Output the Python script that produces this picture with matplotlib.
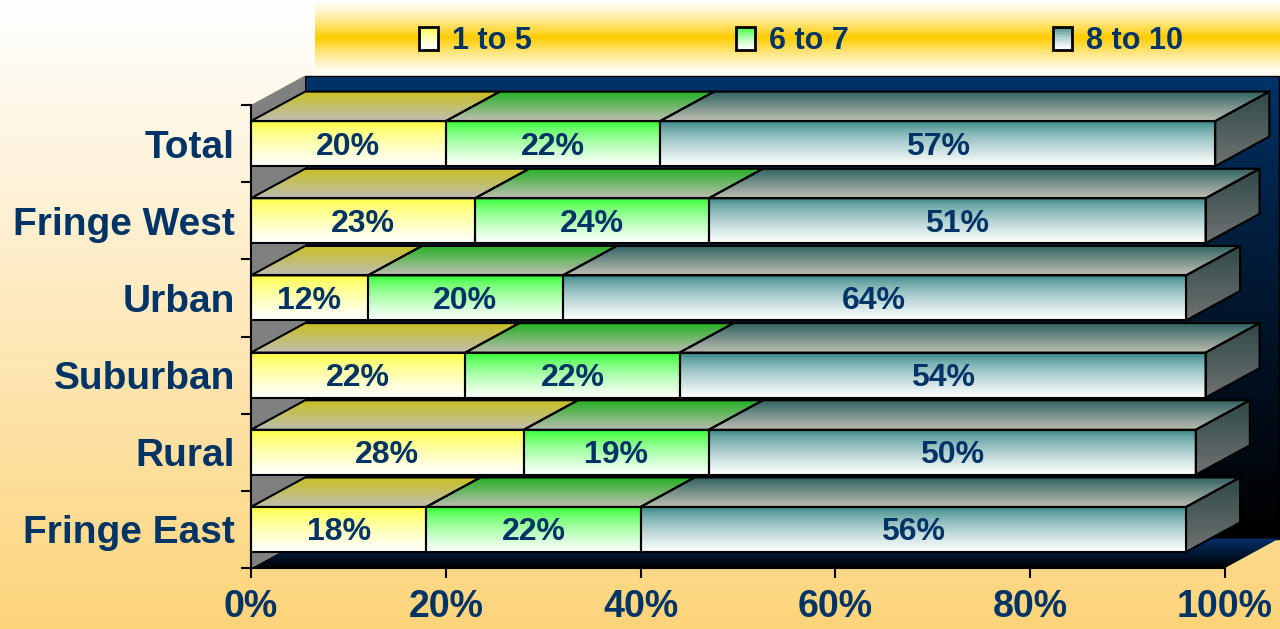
import matplotlib
matplotlib.use("Agg")
import matplotlib.pyplot as plt
import numpy as np
from matplotlib.colors import to_rgb
from matplotlib.patches import Polygon, Rectangle
from matplotlib.legend_handler import HandlerBase
from matplotlib.transforms import offset_copy

plt.rcParams['font.family'] = ['Liberation Sans', 'DejaVu Sans']
plt.rcParams['font.weight'] = 'bold'

# data, top row first
categories = ["Total", "Fringe West", "Urban", "Suburban", "Rural", "Fringe East"]
low = [20, 23, 12, 22, 28, 18]      # 1 to 5
mid = [22, 24, 20, 22, 19, 22]      # 6 to 7
high = [57, 51, 64, 54, 50, 56]     # 8 to 10
series_names = ["1 to 5", "6 to 7", "8 to 10"]
xticks = [0, 20, 40, 60, 80, 100]

navy = "#003366"
front_top = ["#ffff30", "#22ff22", "#2a8080"]
top_back = ["#c8c020", "#22b022", "#2f6262"]
top_front = "#bebeb2"
side_top, side_bot = "#2f4848", "#707272"

DX, DY = 5.55, 0.382   # depth offset (x in %, y in category units)
H = 0.583              # bar face height

fig = plt.figure(figsize=(12.8, 6.29), dpi=100)

# background
bg = fig.add_axes([0, 0, 1, 1], zorder=-5)
t = np.linspace(0, 1, 256)[:, None, None]
c0, c1 = np.array(to_rgb("#ffffff")), np.array(to_rgb("#fdd47a"))
bg.imshow(np.repeat(c0 * (1 - t) + c1 * t, 2, axis=1), extent=(0, 1280, 629, 0),
          aspect='auto', interpolation='bilinear')
yy = np.linspace(-1, 1, 128)
w = np.clip(1 - np.abs(yy), 0, 1) ** 1.3
gold, white = np.array(to_rgb("#ffcc00")), np.array([1, 1, 1.0])
band = white * (1 - w[:, None]) + gold * w[:, None]
bg.imshow(np.repeat(band[:, None, :], 2, axis=1), extent=(315, 1280, 75, 0),
          aspect='auto', interpolation='bilinear')
bg.set_xlim(0, 1280)
bg.set_ylim(629, 0)
bg.axis('off')

ax = fig.add_axes([251 / 1280, 61 / 629, 974 / 1280, 463 / 629])
ax.set_facecolor('none')


def grad(extent, ctop, cbot, z, pts=None, power=1.0):
    s = np.linspace(0, 1, 128)[:, None, None] ** power
    a, b = np.array(to_rgb(ctop)), np.array(to_rgb(cbot))
    img = np.repeat(a * (1 - s) + b * s, 2, axis=1)
    im = ax.imshow(img, extent=extent, aspect='auto', interpolation='bilinear',
                   zorder=z, origin='upper')
    im.set_clip_box(fig.bbox)
    if pts is not None:
        poly = Polygon(pts, closed=True, transform=ax.transData)
        im.set_clip_path(poly)
    return im


def edge(pts, z, lw=1.5):
    ax.add_patch(Polygon(pts, closed=True, fill=False, ec='black', lw=lw,
                         zorder=z, clip_on=False, joinstyle='miter'))


n = len(categories)
ybot, ytop = -0.5, n - 0.5

# back wall, floor, left wall
grad((DX, 100 + DX, ybot + DY, ytop + DY), "#00346a", "#000000", 1, power=0.8)
edge([(DX, ybot + DY), (100 + DX, ybot + DY), (100 + DX, ytop + DY), (DX, ytop + DY)], 1.1, lw=1)
floor = [(0, ybot), (100, ybot), (100 + DX, ybot + DY), (DX, ybot + DY)]
grad((0, 100 + DX, ybot, ybot + DY), "#00306a", "#000000", 1.2, pts=floor)
lwall = [(0, ybot), (0, ytop), (DX, ytop + DY), (DX, ybot + DY)]
ax.add_patch(Polygon(lwall, closed=True, fc="#808080", ec='none', zorder=1.2, clip_on=False))

label_tr = offset_copy(ax.transData, fig=fig, x=0, y=-3, units='dots')
data = [low, mid, high]
for i, cat in enumerate(categories):
    yc = n - 1 - i
    y0, y1 = yc - H / 2, yc + H / 2
    z = 2 + i
    left = 0
    for k in range(3):
        v = data[k][i]
        right = left + v
        top = [(left, y1), (right, y1), (right + DX, y1 + DY), (left + DX, y1 + DY)]
        grad((left, right + DX, y1, y1 + DY), top_back[k], top_front, z, pts=top)
        edge(top, z + 0.3)
        grad((left, right, y0, y1), front_top[k], "#ffffff", z + 0.1, power=0.65)
        edge([(left, y0), (right, y0), (right, y1), (left, y1)], z + 0.3)
        if k == 2:
            side = [(right, y0), (right, y1), (right + DX, y1 + DY), (right + DX, y0 + DY)]
            grad((right, right + DX, y0, y1 + DY), side_top, side_bot, z, pts=side)
            edge(side, z + 0.3)
        ax.text((left + right) / 2, yc, f"{v}%", ha='center', va='center',
                fontsize=23, fontweight='bold', color=navy, zorder=20, transform=label_tr)
        left = right

ax.set_xlim(0, 100)
ax.set_ylim(ybot, ytop)
for s in ['top', 'right']:
    ax.spines[s].set_visible(False)
for s in ['left', 'bottom']:
    ax.spines[s].set_linewidth(1.5)
    ax.spines[s].set_zorder(30)

ax.set_xticks(xticks)
ax.set_xticklabels([f"{v}%" for v in xticks], fontsize=27, fontweight='bold', color=navy)
ax.tick_params(axis='x', length=7, width=1.5, pad=8)
ax.set_yticks(np.arange(n + 1) - 0.5)
ax.set_yticklabels([])
ax.tick_params(axis='y', which='major', length=7, width=1.5)
ax.set_yticks(np.arange(n), minor=True)
ax.set_yticklabels(categories[::-1], minor=True, fontsize=28, fontweight='bold', color=navy)
ax.tick_params(axis='y', which='minor', length=0, pad=11.5)


class GradHandler(HandlerBase):
    def __init__(self, ctop):
        super().__init__()
        self.ctop = ctop

    def create_artists(self, legend, orig_handle, xdescent, ydescent, width, height, fontsize, trans):
        arts = []
        m = 14
        a, b = np.array(to_rgb(self.ctop)), np.array([1, 1, 1.0])
        for j in range(m):
            s = (j / (m - 1)) ** 0.6
            arts.append(Rectangle((-xdescent, -ydescent + height * (1 - (j + 1) / m)), width,
                                  height / m, fc=a * (1 - s) + b * s, ec='none', transform=trans))
        arts.append(Rectangle((-xdescent, -ydescent), width, height, fc='none', ec='black',
                              lw=2, transform=trans))
        return arts


handles = [Rectangle((0, 0), 1, 1) for _ in series_names]
hmap = {h: GradHandler(c) for h, c in zip(handles, front_top)}
fig.legend(handles, series_names, handler_map=hmap, loc='center',
           bbox_to_anchor=(801 / 1280, 1 - 41 / 629), ncol=3, frameon=False,
           prop={'size': 22, 'weight': 'bold'}, labelcolor=navy,
           handlelength=0.62, handleheight=0.75, handletextpad=0.45, columnspacing=6.7)

fig.savefig("out.png", dpi=100)
